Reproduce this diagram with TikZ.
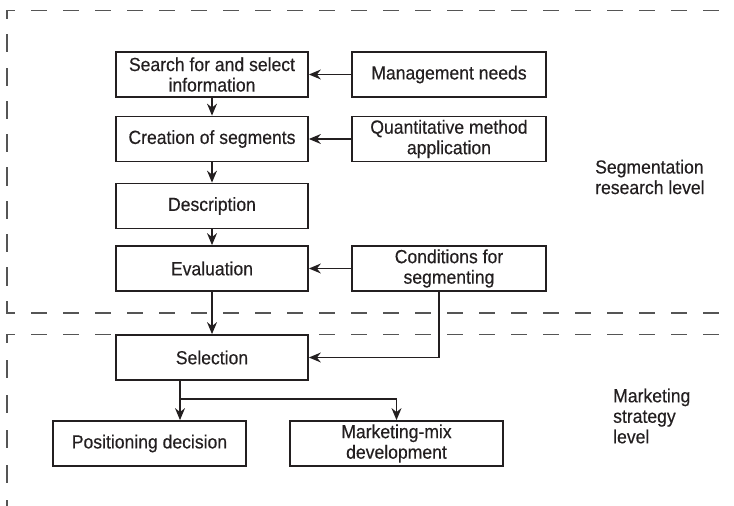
\documentclass[tikz,border=0pt]{standalone}
\usepackage{fontspec}
\setmainfont{Liberation Sans}[FakeStretch=0.925]
\newfontfamily\medfont{Liberation Sans}[FakeStretch=0.925,FakeBold=0.35]
\usetikzlibrary{arrows.meta}
\definecolor{ink}{HTML}{231F20}
\definecolor{dashgray}{HTML}{555555}
\begin{document}
\begin{tikzpicture}[x=1pt,y=-1pt,
  box/.style={draw=ink, line width=1.8pt, minimum width=192pt, minimum height=45pt,
    inner sep=0pt, align=center, text=ink, font=\medfont\fontsize{19}{20.5}\selectfont},
  conn/.style={draw=ink, line width=1.3pt, -{Stealth[length=12pt,width=10pt,inset=4pt]}},
  lev/.style={draw=dashgray, line width=1.2pt, line cap=rect, dash pattern=on 15pt off 17pt, dash phase=7.5pt},
  lbl/.style={align=left, text=ink, inner sep=0pt, font=\medfont\fontsize{19}{20.5}\selectfont}]
\useasboundingbox (0,0) rectangle (734,506);

% level frames
\draw[lev] (7,10.5) -- (718.5,10.5);
\draw[lev, dash pattern=on 17pt off 16.3pt, dash phase=9pt] (7,10.5) -- (7,313);
\draw[lev] (7,313) -- (718.5,313);
\draw[lev] (7,334.5) -- (718.5,334.5);
\draw[lev, dash pattern=on 17pt off 18pt, dash phase=9pt] (7,334.5) -- (7,506);

% boxes
\node[box] (search) at (212,74.5) {Search for and select\\information};
\node[box] (create) at (212,139) {Creation of segments};
\node[box] (desc) at (212,206) {Description};
\node[box] (eval) at (212,268.5) {Evaluation};
\node[box] (sel) at (212,357.5) {Selection};
\node[box, minimum width=194pt] (mgmt) at (449,74.5) {Management needs};
\node[box, minimum width=194pt] (quant) at (449,139) {Quantitative method\\application};
\node[box, minimum width=194pt] (cond) at (449,268.5) {Conditions for\\segmenting};
\node[box, minimum width=193pt] (pos) at (149.5,443.5) {Positioning decision};
\node[box, minimum width=213pt] (mix) at (396.5,443.5) {Marketing-mix\\development};

% labels
\node[lbl, anchor=west] (seglab) at (595,177) {Segmentation\\research level};
\node[lbl, anchor=west] (mktlab) at (613,416) {Marketing\\strategy\\level};

% connectors
\draw[conn] (search) -- (create);
\draw[conn] (create) -- (desc);
\draw[conn] (desc) -- (eval);
\draw[conn] (eval) -- (sel);
\draw[conn] (mgmt) -- (search);
\draw[conn] (quant) -- (create);
\draw[conn] (cond) -- (eval);
\draw[conn] ([xshift=-10pt]cond.south) |- (sel.east);
\coordinate (selout) at ([xshift=-32pt]sel.south);
\coordinate (branch) at ([yshift=-18pt]selout);
\draw[conn] (selout) -- (selout |- pos.north);
\draw[conn] (branch) -| (mix.north);
\end{tikzpicture}
\end{document}
